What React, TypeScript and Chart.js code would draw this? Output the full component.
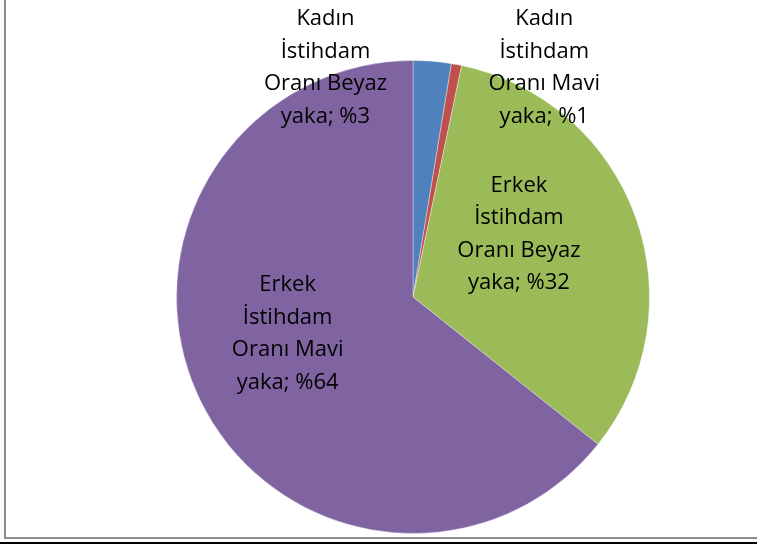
import React, { useEffect, useRef } from "react";
import { Chart, registerables } from "chart.js";

Chart.register(...registerables);

const categories: string[][] = [
  ["Kadın", "İstihdam", "Oranı Beyaz", "yaka"],
  ["Kadın", "İstihdam", "Oranı Mavi", "yaka"],
  ["Erkek", "İstihdam", "Oranı Beyaz", "yaka"],
  ["Erkek", "İstihdam", "Oranı Mavi", "yaka"],
];
const values: number[] = [2.6, 0.7, 32.4, 64.3];
const colors: string[] = ["#4F81BD", "#C0504D", "#9BBB59", "#8064A2"];
// label centre offsets relative to pie centre, in units of radius
const labelOffsets: number[][] = [
  [-0.37, -0.97],
  [0.555, -0.97],
  [0.448, -0.266],
  [-0.53, 0.155],
];

const FONT = "22px 'Open Sans'";
const LINE_H = 32.5;

const labelPlugin = {
  id: "pieLabels",
  afterDatasetsDraw(chart: any) {
    const meta = chart.getDatasetMeta(0);
    const arc0 = meta.data[0];
    if (!arc0) return;
    const cx = arc0.x;
    const cy = arc0.y;
    const r = arc0.outerRadius;
    const ctx = chart.ctx;
    const total = values.reduce((a, b) => a + b, 0);
    ctx.save();
    ctx.font = FONT;
    ctx.fillStyle = "#000";
    ctx.textAlign = "center";
    ctx.textBaseline = "middle";
    categories.forEach((lines, i) => {
      const pct = Math.round((values[i] / total) * 100);
      const text = [...lines.slice(0, -1), `${lines[lines.length - 1]}; %${pct}`];
      const x = cx + labelOffsets[i][0] * r;
      const y = cy + labelOffsets[i][1] * r;
      const n = text.length;
      text.forEach((t, k) => {
        ctx.fillText(t, x, y + (k - (n - 1) / 2) * LINE_H);
      });
    });
    ctx.restore();
  },
};

export default function App() {
  const ref = useRef<HTMLCanvasElement | null>(null);
  useEffect(() => {
    document.body.style.margin = "0";
    if (!ref.current) return;
    const chart = new Chart(ref.current, {
      type: "pie",
      data: {
        labels: categories.map((c) => c.join(" ")),
        datasets: [
          {
            data: values,
            backgroundColor: colors,
            borderColor: "rgba(255,255,255,0.35)",
            borderWidth: 1,
          },
        ],
      },
      options: {
        animation: false,
        responsive: false,
        maintainAspectRatio: false,
        layout: { padding: { left: 176, right: 107, top: 60, bottom: 11 } },
        plugins: {
          legend: { display: false },
          tooltip: { enabled: false },
        },
      },
      plugins: [labelPlugin],
    });
    return () => chart.destroy();
  }, []);
  return (
    <div style={{ position: "fixed", left: 0, top: 0, width: 757, height: 545, background: "#fff" }}>
      <canvas ref={ref} width={757} height={545} style={{ position: "absolute", left: 0, top: 0 }} />
      <div style={{ position: "absolute", left: 4, top: 0, width: 2, height: 539, background: "#8c8c8c" }} />
      <div style={{ position: "absolute", left: 4, top: 537, width: 753, height: 2, background: "#8c8c8c" }} />
      <div style={{ position: "absolute", left: 0, top: 542, width: 757, height: 2, background: "#000" }} />
    </div>
  );
}
